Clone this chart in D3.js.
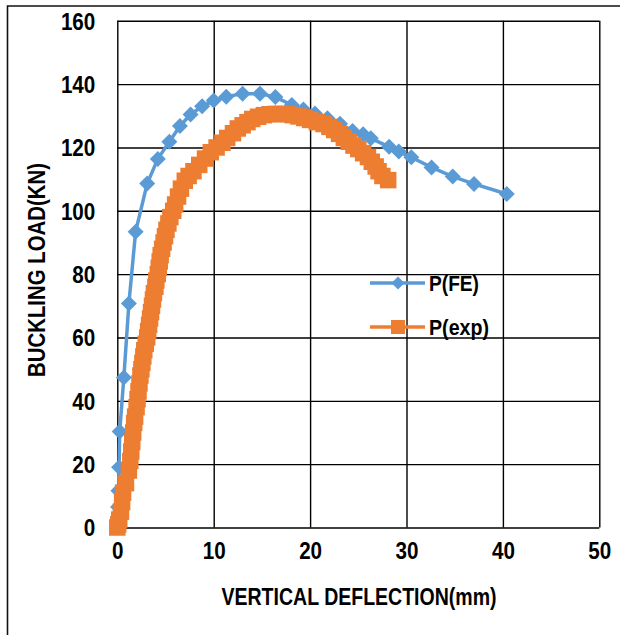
<!DOCTYPE html>
<html>
<head>
<meta charset="utf-8">
<script src="https://cdn.jsdelivr.net/npm/d3@7"></script>
<style>
  html, body { margin: 0; padding: 0; background: #fff; }
  svg { display: block; }
  text { font-family: "Liberation Sans", Arial, sans-serif; font-weight: bold; fill: #000; }
</style>
</head>
<body>
<svg id="chart" width="620" height="635"></svg>
<script>
// Finite-element prediction: deflection (mm) and load (kN)
const feDeflection = [0, 0.05, 0.08, 0.12, 0.18, 0.25, 0.68, 1.2, 1.9, 3.1, 4.2, 5.4, 6.5, 7.6, 8.8, 10.0, 11.3, 13.0, 14.8, 16.4, 18.1, 19.3, 20.5, 21.8, 23.1, 24.4, 25.5, 26.3, 28.2, 29.2, 30.5, 32.6, 34.8, 37.0, 40.4];
const feLoad       = [0, 3, 6.5, 11.6, 19, 30.3, 47.4, 70.7, 93.4, 108.6, 116.4, 121.8, 126.8, 130.4, 133, 134.8, 136, 137, 137, 135.9, 133.4, 132, 130.7, 129.2, 127.5, 125.2, 124.2, 122.9, 120.2, 118.7, 116.9, 113.7, 110.8, 108.5, 105.3];

// Experimental record: deflection (mm) and load (kN)
const expDeflection = [0, 0.1, 0.2, 0.38, 0.5, 0.6, 0.9, 1.2, 1.35, 1.45, 1.55, 1.65, 1.75, 1.85, 2.0, 2.1, 2.2, 2.3, 2.4,
  2.5, 2.6, 2.7, 2.8, 2.95, 3.1, 3.2, 3.3, 3.4, 3.5, 3.6, 3.7, 3.8, 3.95, 4.05, 4.2, 4.3, 4.4, 4.5, 4.65, 4.8, 4.95, 5.1, 5.3, 5.5, 5.8,
  6.0, 6.3, 6.6, 7.0, 7.4, 7.9, 8.5, 9.1, 9.7, 10.3, 10.9, 11.4, 12.0, 12.5, 13.0, 13.5, 14.0, 14.6, 15.2, 15.8, 16.4, 17.0, 17.6, 18.2, 18.8, 19.4, 20.0,
  20.7, 21.4, 22.0, 22.5, 23.0, 23.5, 24.0, 24.5, 25.0, 25.5, 26.0, 26.4, 26.8, 27.1, 27.5, 28.1];
const expLoad = [0, 1, 2.5, 5, 8, 11, 14, 18, 21, 24, 27, 30, 33, 35, 38, 40.5, 43, 45.5, 48,
  50, 52, 54, 56, 58, 60, 62, 64, 66, 68, 70, 72, 74, 76, 78, 80, 82, 84, 86, 88, 90, 92, 94, 96, 98, 100,
  102, 104.5, 107, 109.5, 111, 112.5, 114.5, 116.5, 118.5, 120, 121.5, 123, 124.5, 126, 127, 128, 129, 129.7, 130.2, 130.5, 130.6, 130.6, 130.5, 130.2, 129.8, 129.3, 128.7,
  128, 127.4, 126.5, 125.5, 124.3, 123, 121.8, 120.6, 119.5, 118.2, 117, 115.5, 114, 112.5, 111, 109.7];

const xTicks = [0, 10, 20, 30, 40, 50];
const yTicks = [0, 20, 40, 60, 80, 100, 120, 140, 160];
const seriesNames = ["P(FE)", "P(exp)"];
const xTitle = "VERTICAL DEFLECTION(mm)";
const yTitle = "BUCKLING LOAD(KN)";

const BLUE = "#5B9BD5", ORANGE = "#ED7D31";
const NARROW = 0.86; // horizontal squeeze for a condensed bold face

const svg = d3.select("#chart");
const plot = { left: 117.3, right: 599.3, top: 20.8, bottom: 527.5 };

const x = d3.scaleLinear().domain([0, 50]).range([plot.left, plot.right]);
const y = d3.scaleLinear().domain([0, 160]).range([plot.bottom, plot.top]);

// outer chart frame (left and top edges)
svg.append("path")
  .attr("d", "M7.5,640 L7.5,6 L625,6")
  .attr("fill", "none").attr("stroke", "#111").attr("stroke-width", 1.6);

// gridlines through the axes
const xAxis = d3.axisBottom(x).tickValues(xTicks).tickSize(-(plot.bottom - plot.top)).tickPadding(14).tickFormat(d3.format("d"));
const yAxis = d3.axisLeft(y).tickValues(yTicks).tickSize(-(plot.right - plot.left)).tickPadding(22).tickFormat(d3.format("d"));

const gx = svg.append("g").attr("transform", `translate(0,${plot.bottom})`).call(xAxis);
const gy = svg.append("g").attr("transform", `translate(${plot.left},0)`).call(yAxis);
[gx, gy].forEach(g => {
  g.select(".domain").remove();
  g.selectAll(".tick line").attr("stroke", "#000").attr("stroke-width", 1.4);
  g.selectAll(".tick text").style("font-size", "24px").attr("fill", "#000")
    .attr("transform", `scale(${NARROW},1)`);
});
gx.selectAll(".tick text").attr("dy", "0.71em");
gy.selectAll(".tick text").attr("dy", "0.35em").attr("x", -22 / NARROW);

// axis titles
svg.append("text").attr("x", 359).attr("y", 597).attr("text-anchor", "middle")
  .attr("dominant-baseline", "central").style("font-size", "23px")
  .attr("textLength", 275).attr("lengthAdjust", "spacingAndGlyphs").text(xTitle);
svg.append("text").attr("transform", "translate(37,270) rotate(-90)").attr("text-anchor", "middle")
  .attr("dominant-baseline", "central").style("font-size", "23px")
  .attr("textLength", 214).attr("lengthAdjust", "spacingAndGlyphs").text(yTitle);

const diamond = r => `M0,${-r} L${r},0 L0,${r} L${-r},0 Z`;
const square = s => `M${-s/2},${-s/2} h${s} v${s} h${-s} Z`;

const line = d3.line().x(d => x(d[0])).y(d => y(d[1]));
const fe = feDeflection.map((d, i) => [d, feLoad[i]]);
const ex = expDeflection.map((d, i) => [d, expLoad[i]]);

// P(FE)
svg.append("path").datum(fe).attr("d", line).attr("fill", "none")
  .attr("stroke", BLUE).attr("stroke-width", 3.5).attr("stroke-linejoin", "round");
svg.append("g").selectAll("path").data(fe).join("path")
  .attr("transform", d => `translate(${x(d[0])},${y(d[1])})`)
  .attr("d", diamond(8)).attr("fill", BLUE);

// P(exp)
svg.append("path").datum(ex).attr("d", line).attr("fill", "none")
  .attr("stroke", ORANGE).attr("stroke-width", 3.5).attr("stroke-linejoin", "round");
svg.append("g").selectAll("path").data(ex).join("path")
  .attr("transform", d => `translate(${x(d[0])},${y(d[1])})`)
  .attr("d", square(16.5)).attr("fill", ORANGE);

// legend
const legend = svg.append("g");
const legendItems = [
  { name: seriesNames[0], color: BLUE, mark: diamond(6.5), yPos: 283, w: 50 },
  { name: seriesNames[1], color: ORANGE, mark: square(14), yPos: 327, w: 60 }
];
legendItems.forEach(it => {
  legend.append("line").attr("x1", 370).attr("x2", 425).attr("y1", it.yPos).attr("y2", it.yPos)
    .attr("stroke", it.color).attr("stroke-width", 3.5);
  legend.append("path").attr("transform", `translate(398,${it.yPos})`).attr("d", it.mark).attr("fill", it.color);
  legend.append("text").attr("x", 429).attr("y", it.yPos).attr("dominant-baseline", "central")
    .style("font-size", "22px").attr("textLength", it.w).attr("lengthAdjust", "spacingAndGlyphs").text(it.name);
});
</script>
</body>
</html>
